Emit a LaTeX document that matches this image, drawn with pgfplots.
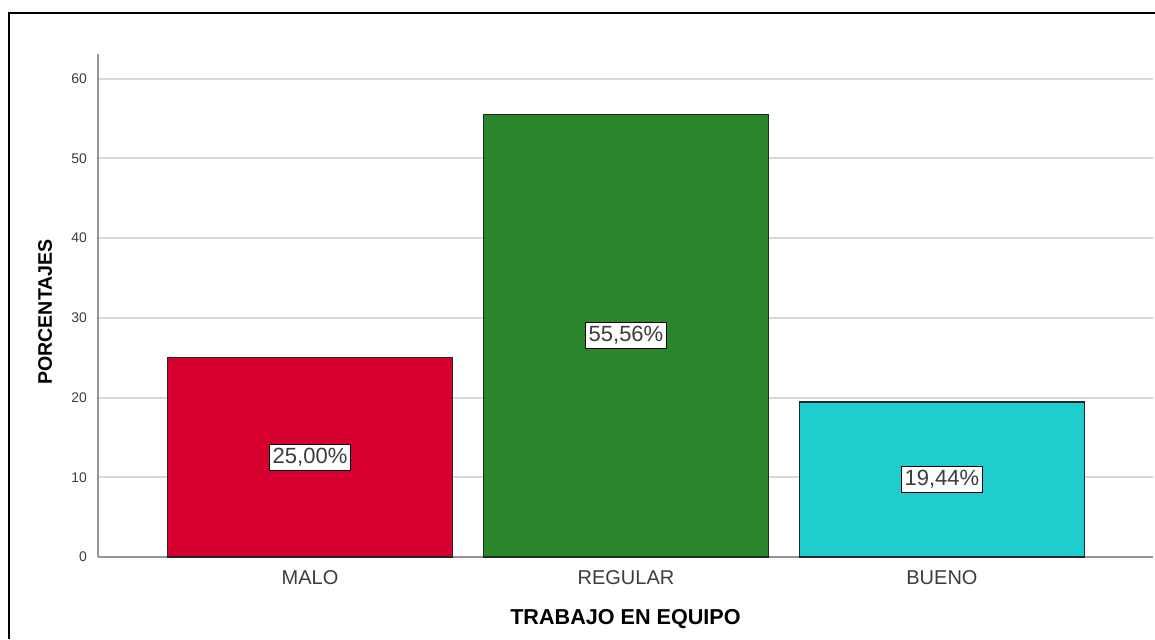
\documentclass[border=0pt]{standalone}
\usepackage{fontspec}
\setmainfont{Liberation Sans}
\usepackage{pgfplots}
\pgfplotsset{compat=1.18}
\definecolor{cmalo}{RGB}{214,0,46}
\definecolor{cregular}{RGB}{42,134,42}
\definecolor{cbueno}{RGB}{30,205,205}
\definecolor{axisgray}{RGB}{150,150,150}
\definecolor{gridgray}{RGB}{217,217,217}
\definecolor{ticktext}{RGB}{60,60,60}
\begin{document}
\begin{tikzpicture}
\path[use as bounding box] (-49pt,-41pt) rectangle (528.5pt,278.5pt);
\draw[line width=1pt] (-44.25pt,-41pt) -- (-44.25pt,272pt) -- (528.5pt,272pt);
\begin{axis}[
  at={(0,0)}, anchor=south west,
  scale only axis, width=527.5pt, height=251.5pt,
  xmin=-0.671, xmax=2.668, ymin=0, ymax=63.1,
  /pgf/number format/assume math mode=true,
  ytick={0,10,...,60},
  xtick={0,1,2}, xticklabels={MALO,REGULAR,BUENO},
  major tick length=0pt,
  axis x line*=bottom, axis y line*=left,
  axis line style={draw=axisgray, line width=0.8pt},
  ymajorgrids, grid style={draw=gridgray, line width=1pt},
  yticklabel style={font=\fontsize{7}{8}\selectfont, text=ticktext, xshift=-2pt},
  xticklabel style={font=\fontsize{10}{12}\selectfont, text=ticktext, yshift=-3.2pt},
  xlabel={TRABAJO EN EQUIPO},
  xlabel style={font=\fontsize{10.8}{13}\selectfont\bfseries, at={(axis description cs:0.5,-0.123)}, anchor=center},
  ylabel={PORCENTAJES},
  ylabel style={font=\fontsize{9.8}{12}\selectfont\bfseries, at={(axis description cs:-0.0502,0.487)}, anchor=center},
  ybar, bar width=0.902, bar shift=0pt,
  visualization depends on={y \as \rawy},
  nodes near coords={\pgfmathprintnumber[fixed,fixed zerofill,precision=2,use comma]{\pgfplotspointmeta}\%},
  every node near coord/.append style={anchor=center, shift={(axis direction cs:0,-\rawy/2)},
    font=\fontsize{11}{13}\selectfont, fill=white, draw=black, line width=0.5pt,
    inner xsep=1.5pt, inner ysep=2pt, text=ticktext},
]
\addplot[draw=black!85, line width=0.6pt, fill=cmalo] coordinates {(0,25.00)};
\addplot[draw=black!85, line width=0.6pt, fill=cregular] coordinates {(1,55.56)};
\addplot[draw=black!85, line width=0.6pt, fill=cbueno] coordinates {(2,19.44)};
\end{axis}
\end{tikzpicture}
\end{document}
